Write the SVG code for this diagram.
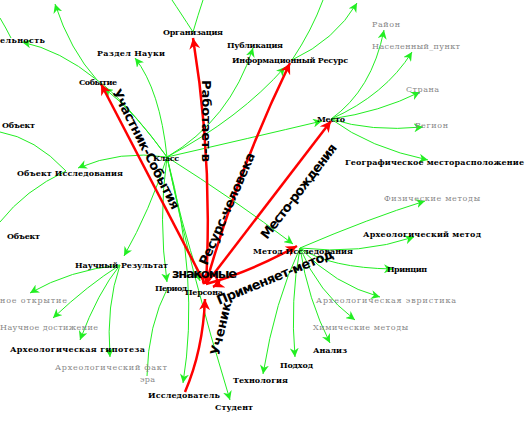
<svg xmlns="http://www.w3.org/2000/svg" width="531" height="421" viewBox="0 0 531 421">
<style>
.n{font-family:"DejaVu Serif","Liberation Serif",serif;font-size:8px;font-weight:bold;fill:#000}
.g{font-family:"DejaVu Serif","Liberation Serif",serif;font-size:8px;fill:#888}
.e{font-family:"DejaVu Sans","Liberation Sans",sans-serif;font-size:13px;font-weight:600;fill:#000}
.gl{fill:none;stroke:#22ee22;stroke-width:1}
.rl{fill:none;stroke:#f00;stroke-width:2.5}
</style>
<defs>
<marker id="ga" viewBox="0 0 10 10" refX="10" refY="5" markerWidth="9" markerHeight="9" markerUnits="userSpaceOnUse" orient="auto"><path d="M0,0 L10,5 L0,10 L3,5 z" fill="#22ee22"/></marker>
<marker id="ra" viewBox="0 0 10 10" refX="10" refY="5" markerWidth="11" markerHeight="11" markerUnits="userSpaceOnUse" orient="auto"><path d="M0,0 L10,5 L0,10 L3,5 z" fill="#f00"/></marker>
</defs>
<rect width="531" height="421" fill="#fff"/>
<g id="connectors">
<g class="gl">
<path d="M167,157 Q135,112 104,88" marker-end="url(#ga)"/>
<path d="M167,157 Q125,100 97,80 Q70,50 55,4" marker-end="url(#ga)"/>
<path d="M97,80 Q60,50 22,42" marker-end="url(#ga)"/>
<path d="M0,18 Q6,28 11,38"/>
<path d="M167,157 Q160,90 135,58" marker-end="url(#ga)"/>
<path d="M167,157 Q120,150 78,168" marker-end="url(#ga)"/>
<path d="M167,157 Q150,210 124,256" marker-end="url(#ga)"/>
<path d="M167,157 Q158,220 167,282" marker-end="url(#ga)"/>
<path d="M167,157 Q180,220 200,281" marker-end="url(#ga)"/>
<path d="M167,157 Q200,280 183,383" marker-end="url(#ga)"/>
<path d="M167,157 Q190,270 230,400" marker-end="url(#ga)"/>
<path d="M167,157 Q235,200 293,244" marker-end="url(#ga)"/>
<path d="M167,157 Q250,138 322,121" marker-end="url(#ga)"/>
<path d="M167,157 Q230,120 253,48" marker-end="url(#ga)"/>
<path d="M167,157 Q240,118 285,67" marker-end="url(#ga)"/>
<path d="M193,32 Q180,12 172,0"/>
<path d="M193,32 Q198,15 203,0"/>
<path d="M292,60 Q312,30 323,0"/>
<path d="M292,60 Q335,40 357,3" marker-end="url(#ga)"/>
<path d="M331,119 Q372,90 384,30" marker-end="url(#ga)"/>
<path d="M331,119 Q385,95 412,52" marker-end="url(#ga)"/>
<path d="M331,119 Q380,112 420,92" marker-end="url(#ga)"/>
<path d="M331,119 Q370,132 423,127" marker-end="url(#ga)"/>
<path d="M331,119 Q370,148 428,160" marker-end="url(#ga)"/>
<path d="M300,248 Q370,218 425,201" marker-end="url(#ga)"/>
<path d="M300,248 Q360,255 414,237" marker-end="url(#ga)"/>
<path d="M300,248 Q330,268 393,269" marker-end="url(#ga)"/>
<path d="M300,248 Q335,285 380,297" marker-end="url(#ga)"/>
<path d="M300,248 Q318,292 355,320" marker-end="url(#ga)"/>
<path d="M300,248 Q308,300 330,343" marker-end="url(#ga)"/>
<path d="M300,248 Q290,300 295,357" marker-end="url(#ga)"/>
<path d="M300,248 Q275,300 263,374" marker-end="url(#ga)"/>
<path d="M120,265 Q70,270 30,293" marker-end="url(#ga)"/>
<path d="M120,265 Q88,285 53,318" marker-end="url(#ga)"/>
<path d="M120,265 Q98,292 80,340" marker-end="url(#ga)"/>
<path d="M120,265 Q106,305 110,357" marker-end="url(#ga)"/>
<path d="M168,287 Q148,325 147,376"/>
<path d="M66,171 Q35,138 0,132"/>
<path d="M66,171 Q25,190 0,222"/>
</g>
<g class="rl">
<path d="M205,284 L101,84" marker-end="url(#ra)"/>
<path d="M206,284 Q213,160 193,38" marker-end="url(#ra)"/>
<path d="M206,284 Q238,170 290,63" marker-end="url(#ra)"/>
<path d="M206,284 L331,121" marker-end="url(#ra)"/>
<path d="M206,284 Q250,272 297,246" marker-end="url(#ra)"/>
<path d="M185,392 Q203,350 205,299" marker-end="url(#ra)"/>
<path d="M204,284 A7,7 0 1,1 213,287" marker-end="url(#ra)"/>
</g>
<text class="e" transform="translate(112,92) rotate(63)" textLength="133" lengthAdjust="spacing">Участник-События</text>
<text class="e" transform="translate(202,80) rotate(90)" textLength="82" lengthAdjust="spacing">Работает-в</text>
<text class="e" transform="translate(207,266) rotate(-66.5)" textLength="121" lengthAdjust="spacing">Ресурс-человека</text>
<text class="e" transform="translate(267,240) rotate(-52.5)" textLength="116" lengthAdjust="spacing">Место-рождения</text>
<text class="e" transform="translate(219,305) rotate(-22.5)" textLength="125" lengthAdjust="spacing">Применяет-метод</text>
<text class="e" transform="translate(219,356) rotate(-77)" textLength="54" lengthAdjust="spacing">Ученик</text>
<text class="e" x="172" y="278" textLength="65" lengthAdjust="spacing">знакомые</text>
</g>
<g id="n-deyat"><text class="n" x="0" y="43" textLength="45">ельность</text></g>
<g id="n-org"><text class="n" x="163" y="35" textLength="60">Организация</text></g>
<g id="n-razdel"><text class="n" x="97" y="56" textLength="68">Раздел Науки</text></g>
<g id="n-publ"><text class="n" x="227" y="48" textLength="56">Публикация</text></g>
<g id="n-inforesurs"><text class="n" x="232" y="63" textLength="116">Информационный Ресурс</text></g>
<g id="n-sobytie"><text class="n" x="79" y="85" textLength="38">Событие</text></g>
<g id="n-mesto"><text class="n" x="317" y="122" textLength="28">Место</text></g>
<g id="n-rayon"><text class="g" x="372" y="27" textLength="28">Район</text></g>
<g id="n-nasp"><text class="g" x="372" y="49" textLength="88">Населенный_пункт</text></g>
<g id="n-strana"><text class="g" x="406" y="92" textLength="33">Страна</text></g>
<g id="n-region"><text class="g" x="415" y="128" textLength="33">Регион</text></g>
<g id="n-geo"><text class="n" x="345" y="165" textLength="179">Географическое месторасположение</text></g>
<g id="n-obj1"><text class="n" x="2" y="128" textLength="33">Объект</text></g>
<g id="n-objissl"><text class="n" x="17" y="176" textLength="106">Объект Исследования</text></g>
<g id="n-klass"><text class="n" x="153" y="161" textLength="26">Класс</text></g>
<g id="n-obj2"><text class="n" x="7" y="239" textLength="33">Объект</text></g>
<g id="n-nauchres"><text class="n" x="75" y="268" textLength="93">Научный Результат</text></g>
<g id="n-period"><text class="n" x="155" y="291" textLength="32">Период</text></g>
<g id="n-persona"><text class="n" x="185" y="295" textLength="38">Персона</text></g>
<g id="n-metod"><text class="n" x="253" y="254" textLength="100">Метод Исследования</text></g>
<g id="n-fiz"><text class="g" x="384" y="201" textLength="96">Физические методы</text></g>
<g id="n-arhmetod"><text class="n" x="363" y="237" textLength="118">Археологический метод</text></g>
<g id="n-princip"><text class="n" x="387" y="272" textLength="40">Принцип</text></g>
<g id="n-evrist"><text class="g" x="316" y="303" textLength="140">Археологическая эвристика</text></g>
<g id="n-him"><text class="g" x="313" y="330" textLength="95">Химические методы</text></g>
<g id="n-analiz"><text class="n" x="313" y="353" textLength="34">Анализ</text></g>
<g id="n-podhod"><text class="n" x="280" y="368" textLength="33">Подход</text></g>
<g id="n-tehn"><text class="n" x="233" y="383" textLength="55">Технология</text></g>
<g id="n-student"><text class="n" x="215" y="410" textLength="38">Студент</text></g>
<g id="n-issled"><text class="n" x="148" y="398" textLength="72">Исследователь</text></g>
<g id="n-era"><text class="g" x="140" y="382" textLength="15">эра</text></g>
<g id="n-fakt"><text class="g" x="55" y="370" textLength="112">Археологический факт</text></g>
<g id="n-gipot"><text class="n" x="10" y="352" textLength="135">Археологическая гипотеза</text></g>
<g id="n-dostig"><text class="g" x="0" y="330" textLength="98">Научное достижение</text></g>
<g id="n-otkr"><text class="g" x="0" y="303" textLength="67">ное открытие</text></g>
</svg>
